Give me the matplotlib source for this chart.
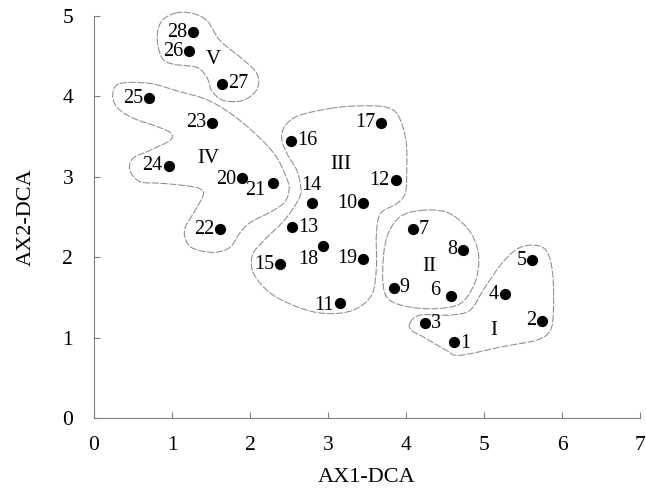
import numpy as np
import matplotlib
matplotlib.use("Agg")
import matplotlib.pyplot as plt
from matplotlib.path import Path
from matplotlib.patches import PathPatch

# sample scores on the first two DCA axes
site_ids = list(range(1, 29))
ax1_score = [4.62, 5.75, 4.24, 5.27, 5.62, 4.58, 4.09, 4.73, 3.84, 3.45,
             3.15, 3.87, 2.54, 2.79, 2.39, 2.53, 3.68, 2.93, 3.45, 1.90,
             2.30, 1.62, 1.51, 0.96, 0.71, 1.22, 1.64, 1.27]
ax2_score = [0.94, 1.21, 1.18, 1.54, 1.96, 1.52, 2.35, 2.09, 1.62, 2.67,
             1.43, 2.96, 2.37, 2.67, 1.91, 3.45, 3.67, 2.14, 1.98, 2.99,
             2.92, 2.35, 3.67, 3.14, 3.98, 4.56, 4.16, 4.80]

# group names and where they are written
group_names = ["I", "II", "III", "IV", "V"]
group_x = [5.13, 4.30, 3.16, 1.46, 1.53]
group_y = [1.09, 1.89, 3.15, 3.23, 4.46]

# hand drawn group outlines (data units)
hull_I_x = [4.05, 4.18, 4.56, 4.82, 4.99, 5.21, 5.42, 5.63, 5.80, 5.88,
            5.89, 5.85, 5.68, 5.25, 4.69, 4.52, 4.22, 4.07]
hull_I_y = [1.18, 1.28, 1.28, 1.34, 1.59, 1.90, 2.10, 2.15, 2.08, 1.80,
            1.34, 1.09, 0.97, 0.89, 0.78, 0.84, 1.01, 1.09]
hull_II_x = [4.18, 4.52, 4.78, 4.91, 4.93, 4.86, 4.69, 4.39, 4.05, 3.80,
             3.71, 3.71, 3.77, 3.92]
hull_II_y = [2.58, 2.56, 2.37, 2.13, 1.88, 1.63, 1.42, 1.36, 1.38, 1.46,
             1.63, 2.00, 2.29, 2.50]
hull_III_x = [3.03, 3.35, 3.73, 3.90, 4.00, 4.01, 3.99, 3.87, 3.67, 3.62,
              3.62, 3.56, 3.32, 2.97, 2.64, 2.28, 2.05, 2.03, 2.17, 2.44,
              2.63, 2.65, 2.60, 2.49, 2.41, 2.44, 2.62]
hull_III_y = [3.85, 3.88, 3.87, 3.76, 3.45, 3.08, 2.79, 2.66, 2.54, 2.27,
              1.87, 1.53, 1.34, 1.30, 1.37, 1.54, 1.79, 2.02, 2.20, 2.46,
              2.73, 2.88, 3.08, 3.26, 3.45, 3.62, 3.76]
hull_IV_x = [0.33, 0.72, 1.06, 1.49, 1.91, 2.30, 2.47, 2.50, 2.44, 2.26,
             2.00, 1.87, 1.74, 1.53, 1.27, 1.17, 1.17, 1.27, 1.40, 1.36,
             1.17, 0.85, 0.59, 0.46, 0.50, 0.72, 0.97, 0.99, 0.85, 0.50,
             0.30, 0.24]
hull_IV_y = [4.16, 4.16, 4.07, 3.94, 3.67, 3.30, 2.98, 2.83, 2.68, 2.56,
             2.43, 2.30, 2.12, 2.06, 2.11, 2.23, 2.37, 2.54, 2.77, 2.85,
             2.89, 2.92, 2.94, 3.08, 3.23, 3.33, 3.45, 3.54, 3.61, 3.73,
             3.86, 4.02]
hull_V_x = [1.06, 0.87, 0.81, 0.87, 1.02, 1.32, 1.45, 1.51, 1.66, 1.91,
            2.09, 2.09, 1.91, 1.62, 1.45, 1.27]
hull_V_y = [5.04, 4.94, 4.73, 4.48, 4.40, 4.36, 4.23, 4.07, 3.95, 3.95,
            4.09, 4.28, 4.46, 4.69, 4.94, 5.03]

# which side of the dot each number sits on (offset in pixels)
label_pos = {
    1: ("r", 0, -1), 2: ("l", 0, 0), 3: ("r", 0, 0), 4: ("l", 0, 0),
    5: ("l", 0, 0), 6: ("l", -5, 5), 7: ("r", 0, 0), 8: ("l", 0, 0),
    9: ("r", 0, 0), 10: ("l", 0, 0), 11: ("l", 0, -2), 12: ("l", 0, 0),
    13: ("r", 0, 0), 14: ("c", 0, 18), 15: ("l", 0, 0), 16: ("r", 0, 0),
    17: ("l", 0, 0), 18: ("c", -14, -14), 19: ("l", 0, 0), 20: ("l", 0, -2),
    21: ("l", -2, -7), 22: ("l", 0, 0), 23: ("l", 0, 0), 24: ("l", 0, 0),
    25: ("l", 0, 0), 26: ("l", 0, 0), 27: ("r", 0, 0), 28: ("l", 0, 0),
}

plt.rcParams["font.family"] = ["Liberation Serif", "DejaVu Serif"]
plt.rcParams["font.size"] = 14.5


def smooth_outline(xs, ys):
    # closed Catmull-Rom through the traced points, as cubic Beziers
    pts = np.column_stack([xs, ys])
    n = len(pts)
    verts = [pts[0]]
    codes = [Path.MOVETO]
    for i in range(n):
        p0, p1 = pts[i - 1], pts[i]
        p2, p3 = pts[(i + 1) % n], pts[(i + 2) % n]
        verts += [p1 + (p2 - p0) / 6, p2 - (p3 - p1) / 6, p2]
        codes += [Path.CURVE4] * 3
    return Path(verts, codes)


fig = plt.figure(figsize=(6.46, 4.92), dpi=100)
ax = fig.add_axes([0.1455, 0.1504, 0.8452, 0.8171])

hulls = [(hull_I_x, hull_I_y), (hull_II_x, hull_II_y), (hull_III_x, hull_III_y),
         (hull_IV_x, hull_IV_y), (hull_V_x, hull_V_y)]
for hx, hy in hulls:
    ax.add_patch(PathPatch(smooth_outline(hx, hy), fill=False, edgecolor="#8c8c8c",
                           lw=0.75, linestyle=(0, (7, 1.5)), clip_on=False))

ax.scatter(ax1_score, ax2_score, s=50, color="black", zorder=3, clip_on=False)

for sid, x, y in zip(site_ids, ax1_score, ax2_score):
    side, dx, dy = label_pos[sid]
    if side == "r":
        ha, dx = "left", dx + 6
    elif side == "l":
        ha, dx = "right", dx - 6
    else:
        ha = "center"
    ax.annotate(str(sid), (x, y), xytext=(dx, dy), textcoords="offset pixels",
                ha=ha, va="center", fontsize=14.5)

for name, x, y in zip(group_names, group_x, group_y):
    ax.text(x, y, name, ha="center", va="center", fontsize=15)

ax.set_xlim(0, 7)
ax.set_ylim(0, 5)
ax.set_xticks(range(0, 8))
ax.set_yticks(range(0, 6))
for s in ["top", "right"]:
    ax.spines[s].set_visible(False)
for s in ["left", "bottom"]:
    ax.spines[s].set_color("#808080")
    ax.spines[s].set_linewidth(0.8)
ax.tick_params(direction="in", length=4, width=0.8, color="#808080",
               labelsize=15.5)
ax.tick_params(axis="x", pad=13)
ax.tick_params(axis="y", pad=15)
ax.set_xlabel("AX1-DCA", fontsize=16, labelpad=9)
ax.set_ylabel("AX2-DCA", fontsize=16, labelpad=19)

fig.savefig("out.png", dpi=100)
